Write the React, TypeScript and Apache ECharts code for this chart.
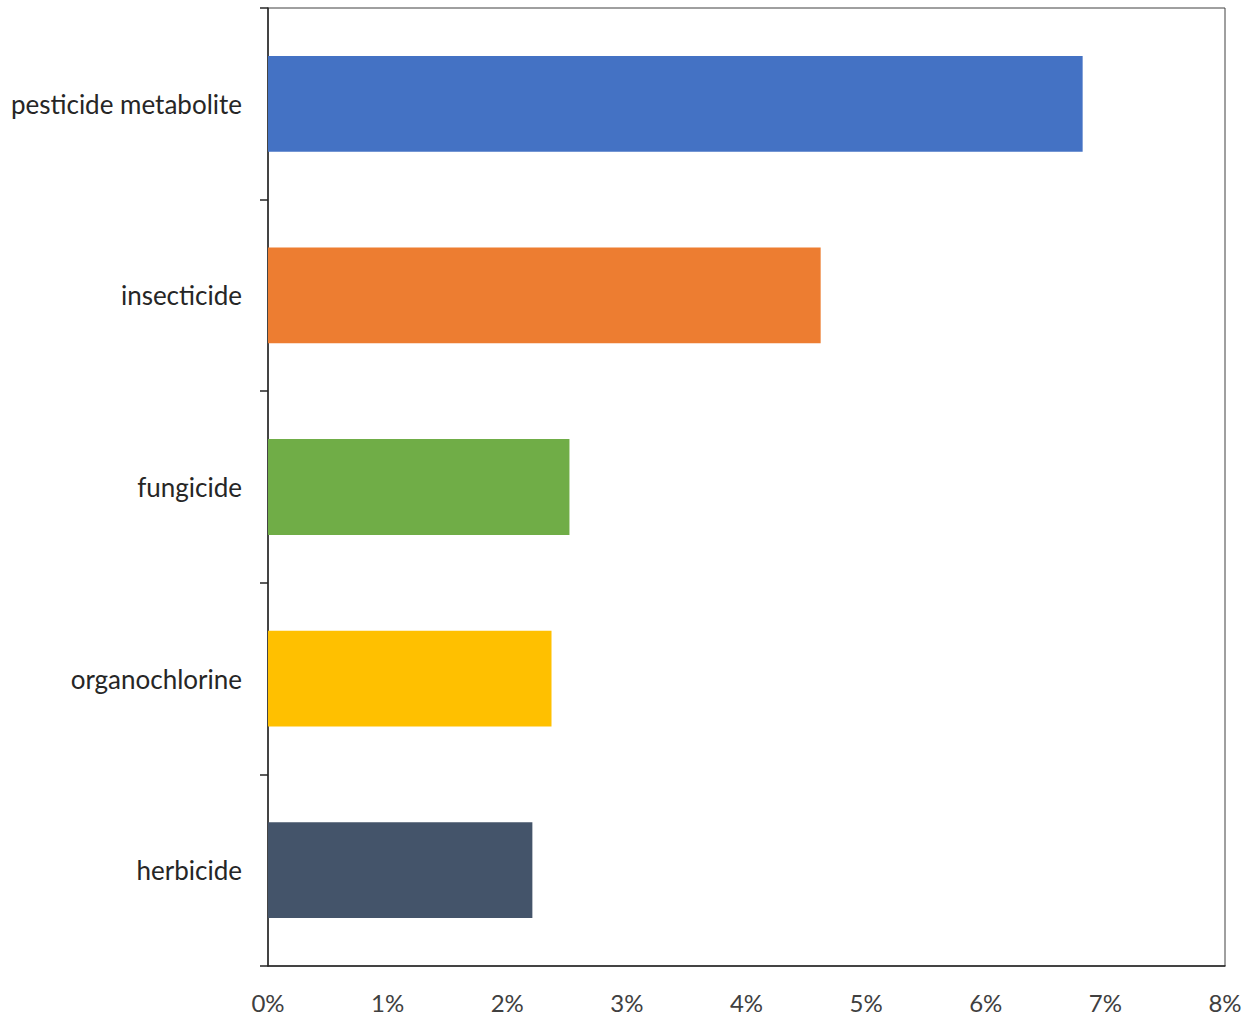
import React, { useEffect, useRef } from "react";
import * as echarts from "echarts";

const categories = ["pesticide metabolite", "insecticide", "fungicide", "organochlorine", "herbicide"];
const values = [6.81, 4.62, 2.52, 2.37, 2.21];
const colors = ["#4472C4", "#ED7D31", "#70AD47", "#FFC000", "#44546A"];
const xMin = 0;
const xMax = 8;
const xInterval = 1;

export default function App() {
  const ref = useRef<HTMLDivElement>(null);
  useEffect(() => {
    document.body.style.margin = "0";
    const chart = echarts.init(ref.current!, null, { renderer: "svg" });
    const font = "Lato";
    chart.setOption({
      animation: false,
      backgroundColor: "#ffffff",
      grid: {
        left: 268,
        right: 27,
        top: 8,
        bottom: 49,
        show: true,
        borderColor: "#404040",
        borderWidth: 1,
        containLabel: false,
      },
      xAxis: {
        type: "value",
        min: xMin,
        max: xMax,
        interval: xInterval,
        axisLine: { show: true, lineStyle: { color: "#262626", width: 1.5 } },
        axisTick: { show: false },
        splitLine: { show: false },
        axisLabel: {
          formatter: "{value}%",
          color: "#404040",
          fontFamily: font,
          fontSize: 24,
          margin: 24,
        },
      },
      yAxis: {
        type: "category",
        data: categories,
        inverse: true,
        axisLine: { show: true, lineStyle: { color: "#262626", width: 1.5 } },
        axisTick: { show: true, length: 8, lineStyle: { color: "#262626", width: 1.5 } },
        axisLabel: {
          color: "#262626",
          fontFamily: font,
          fontSize: 26,
          margin: 26,
        },
      },
      series: [
        {
          type: "bar",
          data: values.map((v, i) => ({ value: v, itemStyle: { color: colors[i] } })),
          barWidth: "50%",
        },
      ],
    });
    return () => chart.dispose();
  }, []);
  return <div ref={ref} style={{ width: 1252, height: 1015 }} />;
}
